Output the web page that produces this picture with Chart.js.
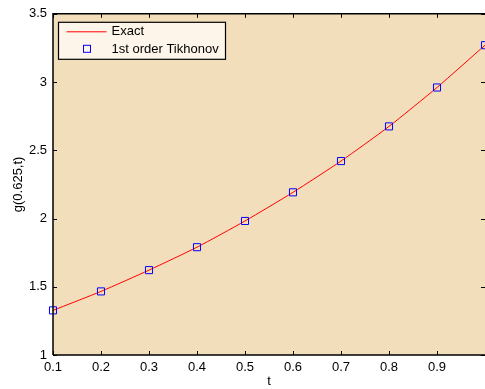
<!DOCTYPE html>
<html>
<head>
<meta charset="utf-8">
<title>g(0.625,t)</title>
<script src="https://cdn.jsdelivr.net/npm/chart.js@4.4.1/dist/chart.umd.min.js"></script>
<style>
  html, body { margin: 0; padding: 0; background: #ffffff; }
  canvas { display: block; }
</style>
</head>
<body>
<canvas id="gChart" width="485" height="389"></canvas>
<script>
// sample times and solution values
const tValues = [0.1, 0.2, 0.3, 0.4, 0.5, 0.6, 0.7, 0.8, 0.9, 1.0];
const exactValues = [1.327, 1.466, 1.622, 1.790, 1.982, 2.192, 2.421, 2.675, 2.960, 3.270];
const tikhonovValues = [1.327, 1.466, 1.622, 1.790, 1.982, 2.192, 2.421, 2.675, 2.960, 3.270];
const xTicks = [0.1, 0.2, 0.3, 0.4, 0.5, 0.6, 0.7, 0.8, 0.9];
const yTicks = [1, 1.5, 2, 2.5, 3, 3.5];
const legendLabels = ['Exact', '1st order Tikhonov'];

const FONT = 'Liberation Sans, Arial, Helvetica, sans-serif';

function toPoints(xs, ys) {
    return xs.map((x, i) => ({ x: x, y: ys[i] }));
}

// axes background, box and inward ticks in the MATLAB style
const axesFrame = {
    id: 'axesFrame',
    beforeDatasetsDraw(chart) {
        const { ctx, chartArea: a } = chart;
        ctx.save();
        ctx.fillStyle = '#F3DEBC';
        ctx.fillRect(a.left, a.top, a.right - a.left + 2, a.bottom - a.top);
        ctx.restore();
    },
    afterDatasetsDraw(chart) {
        const { ctx, chartArea: a, scales } = chart;
        ctx.save();
        ctx.strokeStyle = '#000000';
        ctx.lineWidth = 1;
        ctx.beginPath();
        xTicks.forEach(v => {
            const px = Math.round(scales.x.getPixelForValue(v)) + 0.5;
            ctx.moveTo(px, a.bottom); ctx.lineTo(px, a.bottom - 4);
            ctx.moveTo(px, a.top); ctx.lineTo(px, a.top + 4);
        });
        yTicks.forEach(v => {
            const py = Math.round(scales.y.getPixelForValue(v)) + 0.5;
            ctx.moveTo(a.left, py); ctx.lineTo(a.left + 4, py);
            ctx.moveTo(a.right, py); ctx.lineTo(a.right - 4, py);
        });
        ctx.stroke();
        ctx.lineWidth = 1.5;
        ctx.beginPath();
        ctx.moveTo(a.left, a.bottom);
        ctx.lineTo(a.left, a.top);
        ctx.lineTo(a.right + 2, a.top);
        ctx.moveTo(a.left, a.bottom);
        ctx.lineTo(a.right + 2, a.bottom);
        ctx.stroke();
        ctx.restore();
    },
    afterDraw(chart) {
        // legend box in the upper left corner
        const { ctx, chartArea: a } = chart;
        const bx = a.left + 5.5, by = a.top + 8.5, bw = 167, bh = 37;
        ctx.save();
        ctx.fillStyle = '#FDF5EA';
        ctx.fillRect(bx, by, bw, bh);
        ctx.strokeStyle = '#000000';
        ctx.lineWidth = 1.2;
        ctx.strokeRect(bx, by, bw, bh);

        ctx.strokeStyle = '#FF0000';
        ctx.lineWidth = 1;
        ctx.beginPath();
        ctx.moveTo(bx + 8, by + 9.5);
        ctx.lineTo(bx + 48, by + 9.5);
        ctx.stroke();

        ctx.strokeStyle = '#0000FF';
        ctx.strokeRect(bx + 25, by + 23, 7, 7);

        ctx.fillStyle = '#000000';
        ctx.font = '13px ' + FONT;
        ctx.textBaseline = 'middle';
        ctx.textAlign = 'left';
        ctx.fillText(legendLabels[0], bx + 53, by + 9.5);
        ctx.fillText(legendLabels[1], bx + 53, by + 27);
        ctx.restore();
    }
};

const ctx = document.getElementById('gChart').getContext('2d');
new Chart(ctx, {
    type: 'scatter',
    data: {
        datasets: [{
            label: legendLabels[1],
            data: toPoints(tValues, tikhonovValues),
            showLine: false,
            pointStyle: 'rect',
            pointRadius: 5,
            pointBorderWidth: 1,
            pointBorderColor: '#0000FF',
            pointBackgroundColor: 'rgba(0,0,0,0)',
            clip: false,
            order: 0
        }, {
            label: legendLabels[0],
            data: toPoints(tValues, exactValues),
            showLine: true,
            borderColor: '#FF0000',
            borderWidth: 1,
            pointRadius: 0,
            tension: 0.2,
            order: 1
        }]
    },
    options: {
        responsive: false,
        animation: false,
        layout: { autoPadding: false, padding: { top: 13, right: 0, left: 0, bottom: 0 } },
        plugins: {
            legend: { display: false },
            tooltip: { enabled: false }
        },
        scales: {
            x: {
                type: 'linear',
                min: 0.1,
                max: 1,
                grid: { display: false, drawTicks: false },
                border: { display: false },
                afterBuildTicks: scale => { scale.ticks = xTicks.map(v => ({ value: v })); },
                afterFit: scale => {
                    scale.height = 34;
                    scale.paddingRight = 0;
                },
                ticks: {
                    padding: 5,
                    color: '#000000',
                    font: { family: FONT, size: 13 },
                    callback: v => String(+v.toFixed(1))
                },
                title: {
                    display: true,
                    text: 't',
                    color: '#000000',
                    font: { family: FONT, size: 13 },
                    padding: { top: 0, bottom: 0 }
                }
            },
            y: {
                min: 1,
                max: 3.5,
                grid: { display: false, drawTicks: false },
                border: { display: false },
                afterBuildTicks: scale => { scale.ticks = yTicks.map(v => ({ value: v })); },
                afterFit: scale => { scale.width = 53; },
                ticks: {
                    padding: 6,
                    color: '#000000',
                    font: { family: FONT, size: 13 },
                    callback: v => String(v)
                },
                title: {
                    display: true,
                    text: 'g(0.625,t)',
                    color: '#000000',
                    font: { family: FONT, size: 13 },
                    padding: { top: 11, bottom: 0 }
                }
            }
        }
    },
    plugins: [axesFrame]
});
</script>
</body>
</html>
